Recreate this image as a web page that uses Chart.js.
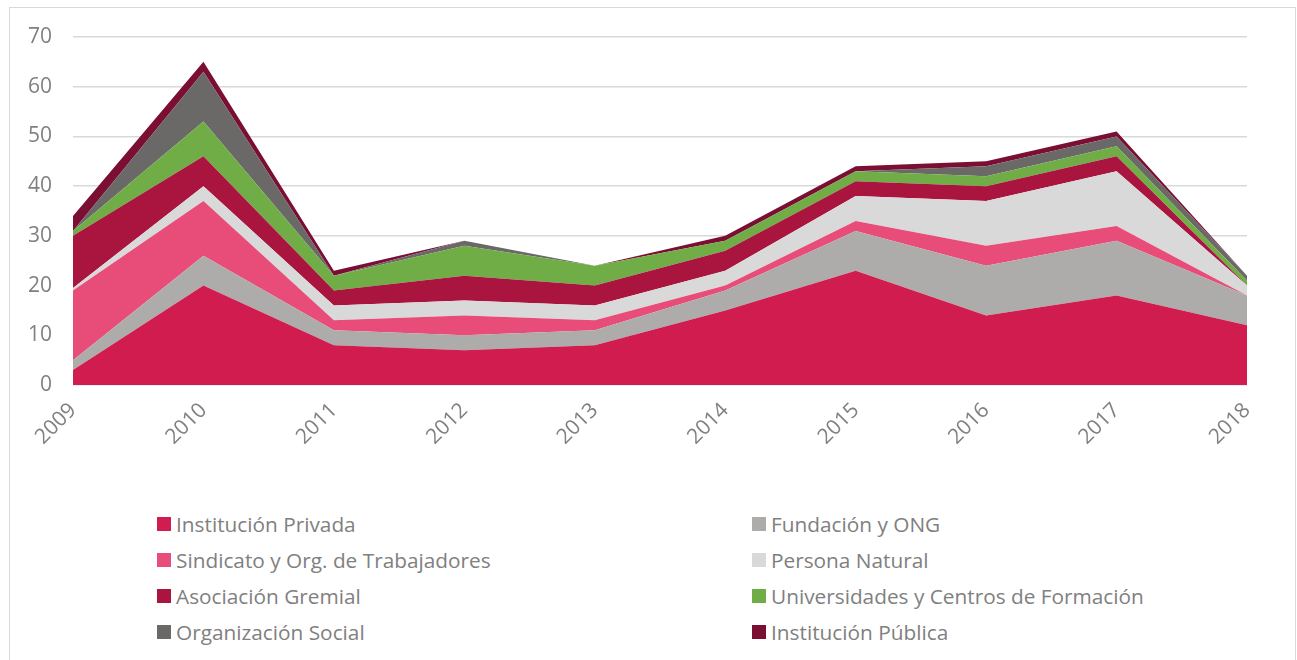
<!DOCTYPE html>
<html>
<head>
<meta charset="utf-8">
<script src="https://cdn.jsdelivr.net/npm/chart.js@4.4.1/dist/chart.umd.min.js"></script>
<style>
  body { margin: 0; background: #fff; font-family: 'Open Sans', sans-serif; }
  #frame { position: absolute; left: 9px; top: 7px; width: 1287px; height: 680px;
           border: 1px solid #d9d9d9; border-bottom: none; box-sizing: border-box; }
  #wrap { position: absolute; left: 0; top: 0; width: 1297px; height: 460px; }
  #legend { position: absolute; left: 157px; top: 512px; display: grid;
            grid-template-columns: 595px 500px; row-gap: 12px; }
  .item { display: flex; align-items: center; font-size: 20.8px; color: #808080; height: 24px; }
  .box { width: 14px; height: 14px; margin-right: 5px; }
</style>
</head>
<body>
<div id="frame"></div>
<div id="wrap"><canvas id="myChart"></canvas></div>
<div id="legend"></div>
<script>
const years = ['2009', '2010', '2011', '2012', '2013', '2014', '2015', '2016', '2017', '2018'];

const privada = [3, 20, 8, 7, 8, 15, 23, 14, 18, 12];
const fundacion = [2, 6, 3, 3, 3, 4, 8, 10, 11, 6];
const sindicato = [14, 11, 2, 4, 2, 1, 2, 4, 3, 0];
const persona = [0.5, 3, 3, 3, 3, 3, 5, 9, 11, 2];
const gremial = [10.5, 6, 3, 5, 4, 4, 3, 3, 3, 0];
const universidades = [1, 7, 3, 6, 4, 2, 2, 2, 2, 1];
const social = [0, 10, 0, 1, 0, 0, 0, 2, 2, 1];
const publica = [3, 2, 1, 0, 0, 1, 1, 1, 1, 0];

const series = [
    { label: 'Institución Privada', data: privada, color: '#d01c4f' },
    { label: 'Fundación y ONG', data: fundacion, color: '#adacaa' },
    { label: 'Sindicato y Org. de Trabajadores', data: sindicato, color: '#e84c78' },
    { label: 'Persona Natural', data: persona, color: '#d9d9d9' },
    { label: 'Asociación Gremial', data: gremial, color: '#a9153f' },
    { label: 'Universidades y Centros de Formación', data: universidades, color: '#70ad47' },
    { label: 'Organización Social', data: social, color: '#6b6967' },
    { label: 'Institución Pública', data: publica, color: '#7b0f33' }
];

const datasets = series.map((s, i) => ({
    label: s.label,
    data: s.data,
    backgroundColor: s.color,
    borderColor: s.color,
    borderWidth: 0,
    pointRadius: 0,
    tension: 0,
    fill: i === 0 ? 'origin' : '-1'
}));

const ctx = document.getElementById('myChart').getContext('2d');
const myChart = new Chart(ctx, {
    type: 'line',
    data: { labels: years, datasets: datasets },
    options: {
        responsive: true,
        maintainAspectRatio: false,
        animation: false,
        layout: { padding: { top: 37, right: 50, left: 0, bottom: 0 } },
        plugins: { legend: false, tooltip: { enabled: false } },
        scales: {
            x: {
                offset: false,
                grid: { display: false },
                border: { display: false },
                ticks: {
                    color: '#808080',
                    font: { family: 'Open Sans', size: 21 },
                    minRotation: 45,
                    maxRotation: 45,
                    padding: 5
                },
                afterFit: (scale) => { scale.height = 75; }
            },
            y: {
                stacked: true,
                min: 0,
                max: 70,
                grid: { color: '#d9d9d9', lineWidth: 1.5, drawTicks: false },
                border: { display: false },
                ticks: {
                    stepSize: 10,
                    color: '#808080',
                    font: { family: 'Open Sans', size: 21 },
                    padding: 21
                },
                afterFit: (scale) => { scale.width = 73; }
            }
        }
    }
});

// legend in two columns
const legend = document.getElementById('legend');
series.forEach(s => {
    const item = document.createElement('div');
    item.className = 'item';
    item.innerHTML = `<span class="box" style="background:${s.color}"></span>${s.label}`;
    legend.appendChild(item);
});
</script>
</body>
</html>
